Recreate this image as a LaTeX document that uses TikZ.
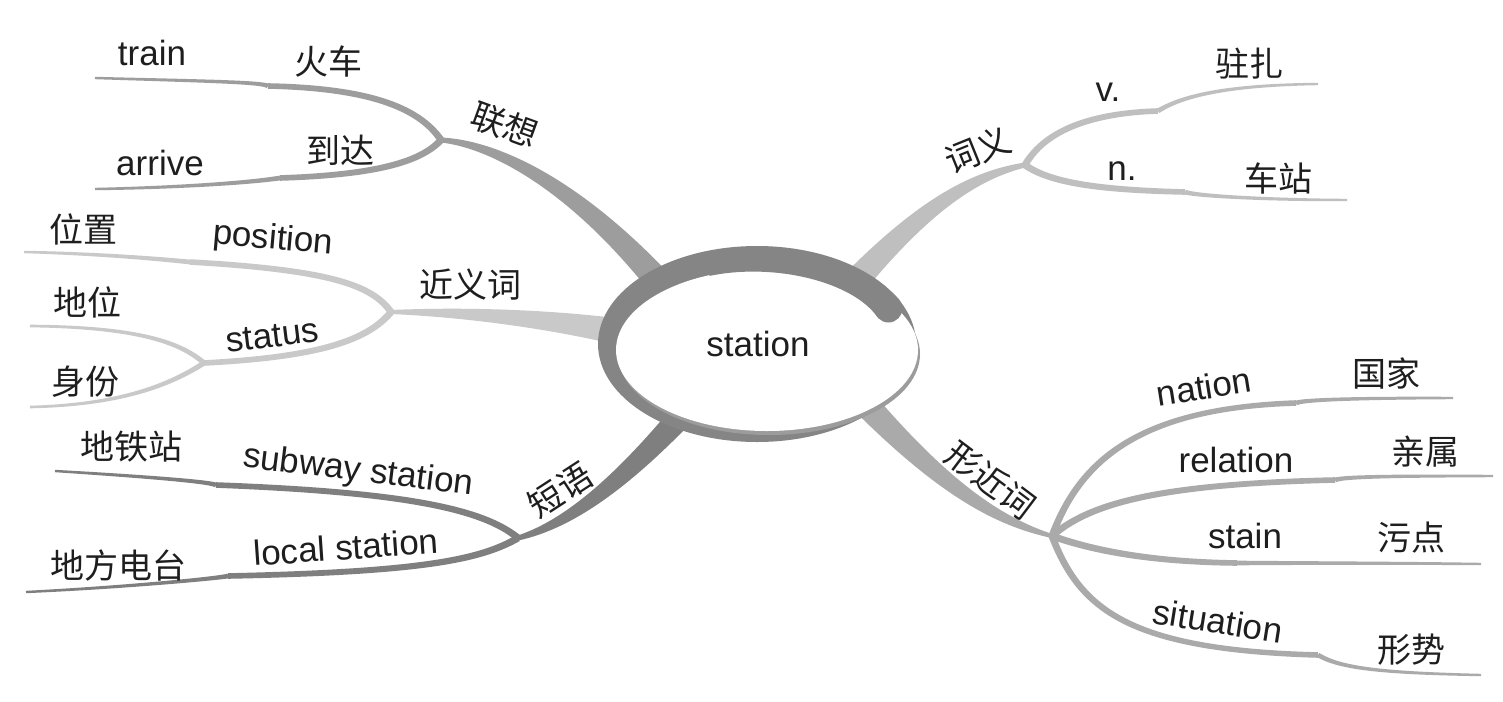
\documentclass[tikz,border=0pt]{standalone}
\usepackage{fontspec}
\setmainfont{Liberation Sans}
\newfontfamily\cjk{Noto Sans CJK SC}
\usetikzlibrary{calc}
\definecolor{ringc}{HTML}{858585}
\definecolor{rimc}{HTML}{9C9C9C}
\definecolor{ga}{HTML}{9D9D9D}
\definecolor{gb}{HTML}{C9C9C9}
\definecolor{gc}{HTML}{7F7F7F}
\definecolor{gd}{HTML}{BFBFBF}
\definecolor{ge}{HTML}{AAAAAA}
\definecolor{txt}{HTML}{1E1E1E}
% tapered branch: colour, P0, P1, P2, P3, half widths at P0..P3
\newcommand\mmbranch[9]{%
  \fill[#1] ($#2!#6!90:#3$) .. controls ($#3!#7!90:#4$) and ($#4!#8!-90:#3$) .. ($#5!#9!-90:#4$)
    -- ($#5!#9!90:#4$) .. controls ($#4!#8!90:#3$) and ($#3!#7!-90:#4$) .. ($#2!#6!-90:#3$) -- cycle;}
\begin{document}
\begin{tikzpicture}[x=1pt,y=-1pt,
  en/.style={font=\fontsize{35}{40}\selectfont, inner sep=0pt, text=txt},
  zh/.style={font=\cjk\fontsize{34}{40}\selectfont, inner sep=0pt, text=txt}]
\useasboundingbox (0,0) rectangle (1503,701);
\fill[white] (0,0) rectangle (1503,701);

% branch points
\coordinate (b1) at (441,140);
\coordinate (b2) at (391,312);
\coordinate (b3) at (518,538);
\coordinate (b4) at (1025,165);
\coordinate (b5) at (1052,536);
\coordinate (s2) at (204,363);
% kinks
\coordinate (k1) at (268,86);
\coordinate (k2) at (280,178);
\coordinate (k3) at (190,262);
\coordinate (k5) at (216,485);
\coordinate (k6) at (228,576);
\coordinate (k7) at (1158,111);
\coordinate (k8) at (1185,192);
\coordinate (k9) at (1296,403);
\coordinate (k10) at (1335,480);
\coordinate (k11) at (1237,563);
\coordinate (k12) at (1318,655);
% free ends
\coordinate (e1) at (95,78);
\coordinate (e2) at (95,189);
\coordinate (e3) at (24,252);
\coordinate (e4) at (30,326);
\coordinate (e5) at (30,407);
\coordinate (e6) at (55,471);
\coordinate (e7) at (26,592);
\coordinate (e8) at (1318,84);
\coordinate (e9) at (1347,200);
\coordinate (e10) at (1453,398);
\coordinate (e11) at (1493,476);
\coordinate (e12) at (1481,564);
\coordinate (e13) at (1481,675);

% ---- sub-branches: 联想
\mmbranch{ga}{(b1)}{(418,106)}{(365,88)}{(k1)}{3.5pt}{3.3pt}{3pt}{2.8pt}
\mmbranch{ga}{(k1)}{(262,82)}{(200,81)}{(e1)}{2.4pt}{1.9pt}{1.6pt}{1.2pt}
\mmbranch{ga}{(b1)}{(420,163)}{(372,175)}{(k2)}{3.5pt}{3.3pt}{3pt}{2.8pt}
\mmbranch{ga}{(k2)}{(240,184)}{(160,188)}{(e2)}{2.4pt}{1.9pt}{1.6pt}{1.2pt}
% ---- 近义词
\mmbranch{gb}{(b2)}{(372,285)}{(330,270)}{(k3)}{3.5pt}{3.3pt}{3pt}{2.8pt}
\mmbranch{gb}{(k3)}{(130,256)}{(70,253)}{(e3)}{2.4pt}{1.9pt}{1.6pt}{1.2pt}
\mmbranch{gb}{(b2)}{(368,340)}{(320,357)}{(s2)}{3.5pt}{3.3pt}{3pt}{2.8pt}
\mmbranch{gb}{(s2)}{(178,340)}{(130,327)}{(e4)}{2.6pt}{2.2pt}{1.8pt}{1.3pt}
\mmbranch{gb}{(s2)}{(170,385)}{(120,405)}{(e5)}{2.6pt}{2.2pt}{1.8pt}{1.3pt}
% ---- 短语
\mmbranch{gc}{(b3)}{(482,508)}{(400,492)}{(k5)}{3.5pt}{3.3pt}{3pt}{2.8pt}
\mmbranch{gc}{(k5)}{(208,481)}{(120,475)}{(e6)}{2.4pt}{1.9pt}{1.6pt}{1.2pt}
\mmbranch{gc}{(b3)}{(480,560)}{(420,572)}{(k6)}{3.5pt}{3.3pt}{3pt}{2.8pt}
\mmbranch{gc}{(k6)}{(220,578)}{(130,587)}{(e7)}{2.4pt}{1.9pt}{1.6pt}{1.2pt}
% ---- 词义
\mmbranch{gd}{(b4)}{(1045,130)}{(1092,113)}{(k7)}{3.5pt}{3.3pt}{3pt}{2.8pt}
\mmbranch{gd}{(k7)}{(1185,94)}{(1235,85)}{(e8)}{2.4pt}{1.9pt}{1.6pt}{1.2pt}
\mmbranch{gd}{(b4)}{(1050,183)}{(1100,190)}{(k8)}{3.5pt}{3.3pt}{3pt}{2.8pt}
\mmbranch{gd}{(k8)}{(1195,196)}{(1270,200)}{(e9)}{2.4pt}{1.9pt}{1.6pt}{1.2pt}
% ---- 形近词
\mmbranch{ge}{(b5)}{(1080,460)}{(1140,408)}{(k9)}{3.5pt}{3.3pt}{3pt}{2.8pt}
\mmbranch{ge}{(k9)}{(1305,399)}{(1380,398)}{(e10)}{2.4pt}{1.9pt}{1.6pt}{1.2pt}
\mmbranch{ge}{(b5)}{(1090,503)}{(1160,484)}{(k10)}{3.5pt}{3.3pt}{3pt}{2.8pt}
\mmbranch{ge}{(k10)}{(1344,476)}{(1420,476)}{(e11)}{2.4pt}{1.9pt}{1.6pt}{1.2pt}
\mmbranch{ge}{(b5)}{(1100,553)}{(1160,562)}{(k11)}{3.5pt}{3.3pt}{3pt}{2.8pt}
\mmbranch{ge}{(k11)}{(1260,563)}{(1400,563)}{(e12)}{2.4pt}{1.9pt}{1.6pt}{1.2pt}
\mmbranch{ge}{(b5)}{(1080,610)}{(1130,650)}{(k12)}{3.5pt}{3.3pt}{3pt}{2.8pt}
\mmbranch{ge}{(k12)}{(1340,668)}{(1380,673)}{(e13)}{2.4pt}{1.9pt}{1.6pt}{1.2pt}

% ---- main branches
\mmbranch{ga}{(b1)}{(493,144)}{(572,183)}{(657,280)}{2.5pt}{4.5pt}{8pt}{13pt}
\mmbranch{gb}{(b2)}{(460,312)}{(540,318)}{(615,331)}{2pt}{5pt}{9pt}{13pt}
\mmbranch{gc}{(b3)}{(562,526)}{(612,492)}{(679,418)}{2.5pt}{5pt}{8.5pt}{12pt}
\mmbranch{gd}{(b4)}{(975,175)}{(925,205)}{(855,282)}{2.5pt}{5pt}{8.5pt}{13pt}
\mmbranch{ge}{(b5)}{(1000,522)}{(945,490)}{(862,400)}{2pt}{5pt}{8.5pt}{13pt}

% ---- centre disc
\coordinate (cring) at (757,344);
\coordinate (crim) at (769,354);
\coordinate (cdisc) at (767,350);
\fill[ringc] (cring) ellipse [x radius=159pt, y radius=98pt];
\fill[rimc] (crim) ellipse [x radius=151pt, y radius=81pt];
\fill[white] (cdisc) ellipse [x radius=151pt, y radius=81pt];
% curl of the ring, widening towards its round end
\coordinate (curlstart) at (707.4,265.1);
\coordinate (curlend) at (888.4,308.5);
\mmbranch{ringc}{(curlstart)}{(778.1,250.2)}{(856.6,269)}{(curlend)}{11pt}{12.5pt}{13.5pt}{14pt}
\fill[ringc] (curlend) circle[radius=14pt];

% ---- texts
\node[en] (station) at (758,344) {station};
\node[en] (train) at (152,53) {train};
\node[zh] (huoche) at (328,62) {火车};
\node[en] (arrive) at (160,163) {arrive};
\node[zh] (daoda) at (340,150) {到达};
\node[zh, rotate=-20] (lianxiang) at (505,125) {联想};
\node[zh] (weizhi) at (83,229) {位置};
\node[en, rotate=-5] (position) at (273,240) {position};
\node[zh] (jinyici) at (470,285) {近义词};
\node[zh] (diwei) at (87,302) {地位};
\node[en, rotate=7] (status) at (272,336) {status};
\node[zh] (shenfen) at (85,382) {身份};
\node[zh] (ditiezhan) at (131,447) {地铁站};
\node[en, rotate=-7] (subway) at (358,472) {subway station};
\node[zh, rotate=33] (duanyu) at (560,490) {短语};
\node[zh] (difang) at (118,566) {地方电台};
\node[en, rotate=4] (local) at (346,547) {local station};
\node[zh, rotate=22] (ciyi) at (978,150) {词义};
\node[en] (v) at (1108,92) {v.};
\node[zh] (zhuzha) at (1249,64) {驻扎};
\node[en] (n) at (1122,171) {n.};
\node[zh] (chezhan) at (1278,178) {车站};
\node[zh, rotate=-37] (xingjin) at (991,480) {形近词};
\node[en, rotate=9] (nation) at (1204,387) {nation};
\node[zh] (guojia) at (1386,373) {国家};
\node[en] (relation) at (1236,460) {relation};
\node[zh] (qinshu) at (1425,452) {亲属};
\node[en] (stain) at (1245,536) {stain};
\node[zh] (wudian) at (1411,538) {污点};
\node[en, rotate=-9] (situation) at (1218,621) {situation};
\node[zh] (xingshi) at (1411,650) {形势};
\end{tikzpicture}
\end{document}
